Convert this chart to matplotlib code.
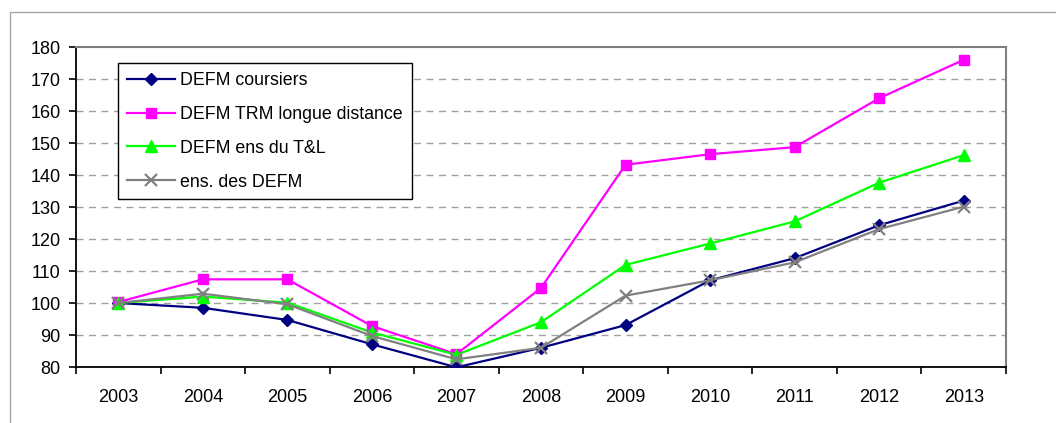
import matplotlib
matplotlib.use("Agg")
import matplotlib.pyplot as plt
import matplotlib.patches as patches
import numpy as np

# --------- data ----------
years = ["2003", "2004", "2005", "2006", "2007", "2008", "2009", "2010", "2011", "2012", "2013"]
coursiers = [100.0, 98.5, 94.7, 87.1, 79.9, 86.0, 93.1, 107.1, 114.0, 124.3, 132.0]
trm_longue = [100.3, 107.4, 107.4, 92.8, 84.0, 104.7, 143.2, 146.5, 148.7, 164.0, 176.0]
ens_tl = [100.0, 102.0, 100.1, 90.8, 83.8, 94.0, 111.9, 118.6, 125.5, 137.6, 146.2]
ens_defm = [100.0, 102.9, 99.6, 89.7, 82.4, 86.0, 102.3, 107.1, 112.7, 123.1, 130.1]

series = [
    ("DEFM coursiers", coursiers, "#000080", "D", 6.5),
    ("DEFM TRM longue distance", trm_longue, "#FF00FF", "s", 7),
    ("DEFM ens du T&L", ens_tl, "#00FF00", "^", 8),
    ("ens. des DEFM", ens_defm, "#808080", "x", 8),
]

plt.rcParams["font.family"] = ["Liberation Sans", "DejaVu Sans"]

fig = plt.figure(figsize=(10.56, 4.23), dpi=100)
ax = fig.add_axes([76 / 1056, 1 - 367 / 423, 930 / 1056, 320 / 423])

# cadre extérieur (coupé à droite / en bas)
fig.add_artist(patches.Rectangle((10 / 1056, -0.2), 1.2, 1.2 - 12 / 423,
                                 transform=fig.transFigure, fill=False,
                                 edgecolor="#A6A6A6", linewidth=1.0))

x = np.arange(len(years))
for label, vals, col, mk, ms in series:
    kw = dict(markeredgewidth=1.6) if mk == "x" else dict(markeredgecolor=col)
    ax.plot(x, vals, color=col, linewidth=1.6, marker=mk, markersize=ms,
            markerfacecolor=col, label=label, zorder=3, **kw)

ax.set_xlim(-0.5, len(years) - 0.5)
ax.set_ylim(80, 180)
ax.set_yticks(range(80, 181, 10))
ax.set_xticks(x)
ax.set_xticklabels(years)
ax.set_xticks(np.arange(-0.5, len(years), 1.0), minor=True)

ax.tick_params(axis="x", which="major", length=0, pad=16, labelsize=13)
ax.tick_params(axis="x", which="minor", length=5, width=1.2, direction="out")
ax.tick_params(axis="y", length=5, width=1.2, direction="out", pad=6, labelsize=13)

for y in range(90, 180, 10):
    ax.axhline(y, color="#A0A0A0", linewidth=1.0, linestyle=(0, (5, 4)), zorder=1)

ax.spines["left"].set_color("#000000")
ax.spines["bottom"].set_color("#000000")
ax.spines["left"].set_linewidth(1.3)
ax.spines["bottom"].set_linewidth(1.3)
ax.spines["top"].set_color("#808080")
ax.spines["right"].set_color("#808080")
ax.spines["top"].set_linewidth(1.5)
ax.spines["right"].set_linewidth(1.5)

leg = ax.legend(loc="upper left", bbox_to_anchor=(42 / 930, 304 / 320),
                borderaxespad=0, fontsize=12.8, frameon=True, fancybox=False,
                edgecolor="#000000", framealpha=1, handlelength=2.7,
                handletextpad=0.3, labelspacing=0.95, borderpad=0.5,
                numpoints=1)
leg.get_frame().set_linewidth(1.0)

fig.savefig("out.png", dpi=100)
